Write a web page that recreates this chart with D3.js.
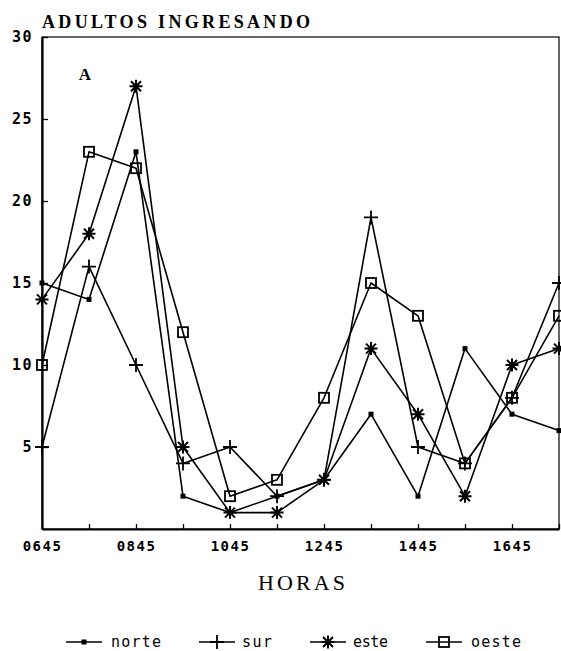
<!DOCTYPE html>
<html>
<head>
<meta charset="utf-8">
<script src="https://cdn.jsdelivr.net/npm/d3@7"></script>
<style>
  html, body { margin: 0; padding: 0; background: #fff; }
  svg { display: block; }
</style>
</head>
<body>
<svg id="chart" width="561" height="651"></svg>
<script>
// Hourly counts of adults entering, by side (norte, sur, este, oeste)
const hours = ["0645","0745","0845","0945","1045","1145","1245","1345","1445","1545","1645","1745"];
const tickHours = ["0645","0845","1045","1245","1445","1645"];
const yTicks = [5, 10, 15, 20, 25, 30];
const norte = [15, 14, 23, 2, 1, 2, 3, 7, 2, 11, 7, 6];
const sur   = [5, 16, 10, 4, 5, 2, 3, 19, 5, 4, 8, 15];
const este  = [14, 18, 27, 5, 1, 1, 3, 11, 7, 2, 10, 11];
const oeste = [10, 23, 22, 12, 2, 3, 8, 15, 13, 4, 8, 13];
const seriesNames = ["norte", "sur", "este", "oeste"];
const seriesValues = [norte, sur, este, oeste];

const svg = d3.select("#chart");
const ink = "#000";
const plotLeft = 42, plotRight = 559, plotTop = 37, plotBottom = 529;

const x = d3.scalePoint().domain(hours).range([plotLeft, plotRight]).padding(0);
const y = d3.scaleLinear().domain([0, 30]).range([plotBottom, plotTop]);

// Title
svg.append("text")
  .attr("x", 42).attr("y", 28)
  .attr("font-family", "Liberation Serif, serif")
  .attr("font-size", 18).attr("font-weight", "bold")
  .attr("textLength", 268).attr("lengthAdjust", "spacing")
  .attr("fill", ink)
  .text("ADULTOS INGRESANDO");

// Panel letter
svg.append("text")
  .attr("x", 85).attr("y", 80)
  .attr("text-anchor", "middle")
  .attr("font-family", "Liberation Serif, serif")
  .attr("font-size", 17).attr("font-weight", "bold")
  .attr("fill", ink)
  .text("A");

// Frame
svg.append("rect")
  .attr("x", plotLeft).attr("y", plotTop)
  .attr("width", plotRight - plotLeft).attr("height", plotBottom - plotTop)
  .attr("fill", "none").attr("stroke", ink).attr("stroke-width", 1.2);

// Axes
const xAxis = d3.axisBottom(x)
  .tickSizeInner(-5).tickSizeOuter(0).tickPadding(12)
  .tickFormat(d => tickHours.includes(d) ? d : "");
const gx = svg.append("g").attr("transform", `translate(0,${plotBottom})`).call(xAxis);
gx.select(".domain").attr("stroke", ink).attr("stroke-width", 2.2);
gx.selectAll(".tick line").attr("stroke", ink).attr("stroke-width", 1.3);
gx.selectAll(".tick text")
  .attr("font-family", "DejaVu Sans Mono, monospace")
  .attr("font-size", 14).attr("font-weight", "bold")
  .attr("letter-spacing", 1.5)
  .attr("fill", ink);

const yAxis = d3.axisLeft(y)
  .tickValues(yTicks)
  .tickSizeInner(-6).tickSizeOuter(0).tickPadding(9);
const gy = svg.append("g").attr("transform", `translate(${plotLeft},0)`).call(yAxis);
gy.select(".domain").attr("stroke", ink).attr("stroke-width", 2.2);
gy.selectAll(".tick line").attr("stroke", ink).attr("stroke-width", 1.3);
gy.selectAll(".tick text")
  .attr("font-family", "DejaVu Sans Mono, monospace")
  .attr("font-size", 15).attr("font-weight", "bold")
  .attr("letter-spacing", 1.5)
  .attr("fill", ink);

// X axis title
svg.append("text")
  .attr("x", 258).attr("y", 590)
  .attr("font-family", "Liberation Serif, serif")
  .attr("font-size", 22)
  .attr("textLength", 87).attr("lengthAdjust", "spacing")
  .attr("fill", ink)
  .text("HORAS");

// Marker drawing helpers
function drawMarker(g, name, cx, cy) {
  if (name === "norte") {
    g.append("rect").attr("x", cx - 2.5).attr("y", cy - 2.5)
      .attr("width", 5).attr("height", 5).attr("fill", ink);
  } else if (name === "sur") {
    g.append("path")
      .attr("d", `M${cx - 7},${cy}H${cx + 7}M${cx},${cy - 7}V${cy + 7}`)
      .attr("stroke", ink).attr("stroke-width", 1.8).attr("fill", "none");
  } else if (name === "este") {
    const r = 6.5, rd = 5;
    g.append("path")
      .attr("d", `M${cx - r},${cy}H${cx + r}M${cx},${cy - r}V${cy + r}` +
                 `M${cx - rd},${cy - rd}L${cx + rd},${cy + rd}M${cx - rd},${cy + rd}L${cx + rd},${cy - rd}`)
      .attr("stroke", ink).attr("stroke-width", 2).attr("fill", "none");
    g.append("circle").attr("cx", cx).attr("cy", cy).attr("r", 2.5).attr("fill", ink);
  } else {
    g.append("rect").attr("x", cx - 5).attr("y", cy - 5)
      .attr("width", 10).attr("height", 10)
      .attr("fill", "none")
      .attr("stroke", ink).attr("stroke-width", 1.8);
  }
}

const line = d3.line().x((d, i) => x(hours[i])).y(d => y(d));

const plot = svg.append("g");
seriesNames.forEach((name, k) => {
  plot.append("path")
    .datum(seriesValues[k])
    .attr("d", line)
    .attr("fill", "none")
    .attr("stroke", ink)
    .attr("stroke-width", 1.6)
    .attr("stroke-linejoin", "round");
});
seriesNames.forEach((name, k) => {
  const g = plot.append("g");
  seriesValues[k].forEach((v, i) => drawMarker(g, name, x(hours[i]), y(v)));
});

// Legend
const legendX = [66, 199, 310, 426];
const legendText = [{x: 111, w: 50}, {x: 242, w: 30}, {x: 353, w: 35}, {x: 471, w: 50}];
const ly = 642;
const lg = svg.append("g");
seriesNames.forEach((name, k) => {
  const x0 = legendX[k];
  lg.append("line")
    .attr("x1", x0).attr("x2", x0 + 36)
    .attr("y1", ly).attr("y2", ly)
    .attr("stroke", ink).attr("stroke-width", 1.6);
  drawMarker(lg, name, x0 + 18, ly);
  lg.append("text")
    .attr("x", legendText[k].x).attr("y", ly + 5)
    .attr("font-family", "DejaVu Sans Mono, monospace")
    .attr("font-size", 15)
    .attr("textLength", legendText[k].w).attr("lengthAdjust", "spacing")
    .attr("fill", ink)
    .text(name);
});
</script>
</body>
</html>
